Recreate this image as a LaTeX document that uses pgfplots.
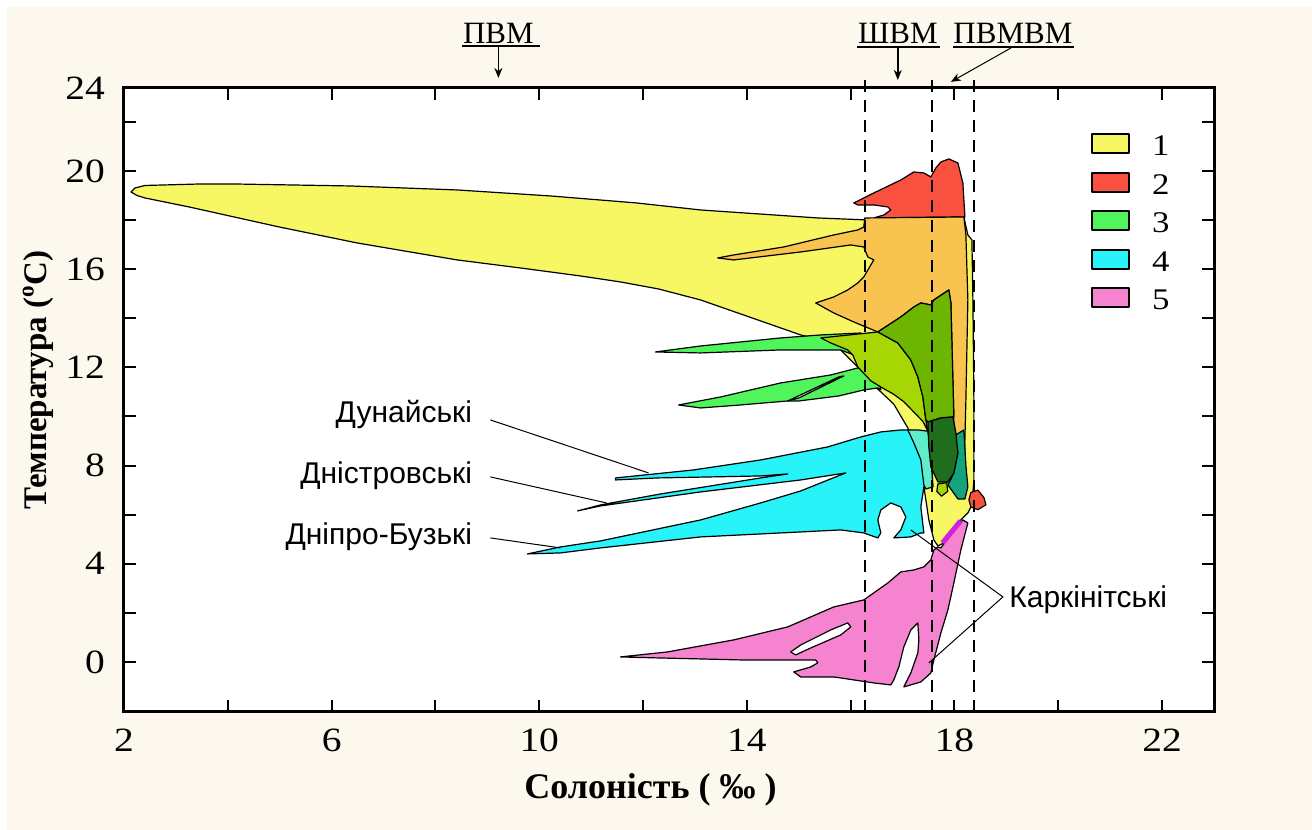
\documentclass[border=0pt]{standalone}
\usepackage{fontspec}
\setmainfont{Liberation Serif}
\newfontfamily\sansf{Liberation Sans}
\newfontfamily\tickf[FakeStretch=1.16]{Liberation Serif}
\usepackage{pgfplots}
\pgfplotsset{compat=1.18}
\usetikzlibrary{arrows.meta}
\definecolor{cYel}{HTML}{F7F763}
\definecolor{cRed}{HTML}{FA5040}
\definecolor{cOra}{HTML}{F9C350}
\definecolor{cGrn}{HTML}{50F55C}
\definecolor{cYG}{HTML}{A6D704}
\definecolor{cMG}{HTML}{6DB500}
\definecolor{cDG}{HTML}{1E6E1E}
\definecolor{cTeal}{HTML}{13A47E}
\definecolor{cLT}{HTML}{60EDCB}
\definecolor{cCyan}{HTML}{27F3F9}
\definecolor{cPink}{HTML}{F583CF}
\definecolor{cMag}{HTML}{D020E0}
\definecolor{cBg}{HTML}{FDF8EE}
\pgfplotsset{reg/.style={draw=black, line width=0.6pt, line join=round}}
\begin{document}
\begin{tikzpicture}
\fill[white] (-62pt,-59pt) rectangle (594pt,356pt);
\fill[cBg] (-58.5pt,-59pt) rectangle (594pt,352.5pt);
\useasboundingbox (-62pt,-59pt) rectangle (594pt,356pt);
\begin{axis}[
  scale only axis, width=545pt, height=312pt,
  xmin=2, xmax=23, ymin=-2.04, ymax=23.38,
  clip=false,
  axis background/.style={fill=white},
  axis line style={line width=1.5pt},
  major tick style={line width=1pt, black},
  major tick length=6pt,
  xtick={2,4,...,22}, xticklabels={2,,6,,10,,14,,18,,22},
  ytick={0,2,...,22}, yticklabels={0,,4,,8,,12,,16,,20,},
  extra y ticks={23.38}, extra y tick labels={24},
  extra y tick style={major tick length=0pt},
  ticklabel style={font=\tickf\fontsize{17}{20}\selectfont},
  xticklabel style={yshift=-5pt},
  yticklabel style={xshift=-6pt},
  xlabel={\textbf{Солоність ( ‰ )}},
  xlabel style={at={(axis description cs:0.483,-0.125)}, anchor=center, font=\fontsize{18}{21}\selectfont},
  ylabel={\textbf{Температура (\textsuperscript{o}C)}},
  ylabel style={at={(axis description cs:-0.079,0.532)}, anchor=center, font=\fontsize{16.5}{20}\selectfont},
  legend image code/.code={\draw[#1, line width=1pt] (0pt,-4.75pt) rectangle (18.5pt,4.75pt);},
  legend style={at={(axis description cs:0.887,0.934)}, anchor=north west, draw=none, fill=none,
    inner sep=0pt, font=\tickf\fontsize{15}{18}\selectfont, row sep=5.25pt,
    nodes={inner sep=1pt, text height=12pt, text depth=0pt},
    /tikz/every odd column/.append style={column sep=10pt}},
  legend cell align=left,
]
% 1 yellow
\addplot[reg, fill=cYel] coordinates {
(2.135,19.145) (2.212,19.308) (2.405,19.409) (3.466,19.470) (4.122,19.470) (6.359,19.389)
(8.422,19.226) (10.216,18.982) (11.875,18.697) (13.109,18.411) (15.366,18.086) (16.330,18.004)
(18.181,18.126) (18.258,17.393) (18.336,17.189) (18.355,14.745) (18.374,10.672) (18.374,7.413)
(18.336,6.395) (18.258,6.069) (18.123,5.784) (17.795,4.847) (17.680,4.725) (17.603,4.969)
(17.506,5.784) (17.449,6.599) (17.410,7.128) (17.352,8.228) (17.217,8.921) (17.101,9.532)
(16.831,10.5) (16.581,11.0) (16.388,11.365) (16.137,12.016) (15.809,12.709) (15.424,13.116)
(15.038,13.320) (14.652,13.605) (13.881,14.175) (13.109,14.745) (12.299,15.193) (11.566,15.479)
(10.795,15.723) (9.637,16.049) (8.422,16.375) (6.494,17.067) (4.989,17.719) (3.254,18.534)
(2.405,18.900) (2.251,19.0)} -- cycle;
\addlegendentry{1}
% 2 red
\addplot[reg, fill=cRed] coordinates {
(16.060,18.697) (16.446,19.104) (16.966,19.633) (17.217,19.959) (17.410,19.919) (17.545,19.756)
(17.641,20.122) (17.738,20.367) (17.892,20.489) (18.066,20.326) (18.162,19.511) (18.201,18.126)
(16.446,18.086) (16.639,18.208) (16.773,18.411) (16.716,18.534) (16.446,18.615) (16.137,18.615)} -- cycle;
\addlegendentry{2}
% orange overlap
\addplot[reg, fill=cOra, forget plot] coordinates {
(16.272,18.086) (18.181,18.126) (18.220,17.393) (18.258,14.745) (18.220,10.672) (18.181,7.413)
(18.085,7.128) (17.988,7.413) (17.988,9.980) (17.931,14.623) (17.892,15.153) (17.603,14.745)
(17.545,14.542) (17.352,14.623) (17.217,14.460) (16.966,14.053) (16.523,13.442) (16.060,13.849)
(15.674,14.216) (15.327,14.623) (15.674,14.868) (15.944,15.153) (16.137,15.438) (16.253,15.682)
(16.388,16.171) (16.446,16.375) (16.330,16.497) (16.253,16.904) (16.002,16.986) (15.038,16.701)
(13.745,16.375) (13.437,16.456) (13.745,16.578) (14.710,16.904) (15.674,17.393) (16.137,17.597)
(16.253,17.719)} -- cycle;
% 3 green tongues
\addplot[reg, fill=cGrn] coordinates {
(12.241,12.627) (13.109,12.871) (14.652,13.198) (15.424,13.320) (16.195,13.400) (16.195,12.400)
(15.809,12.709) (14.652,12.709) (13.109,12.587)} -- cycle;
\addlegendentry{3}
\addplot[reg, fill=cGrn, forget plot] coordinates {
(12.685,10.468) (13.495,10.794) (14.652,11.365) (15.616,11.690) (16.137,11.976) (16.523,11.650)
(16.581,11.079) (16.523,11.161) (16.253,11.079) (15.771,10.835) (15.0,10.63) (14.787,10.631)
(13.881,10.468) (13.109,10.346)} -- cycle;
\addplot[reg, fill=white, forget plot] coordinates {
(14.787,10.631) (15.771,11.609) (15.868,11.650) (15.0,10.75)} -- cycle;
% yellow-green overlap
\addplot[reg, fill=cYG, forget plot] coordinates {
(15.424,13.198) (16.523,13.442) (16.908,12.994) (17.159,12.301) (17.294,11.609) (17.391,10.794)
(17.449,9.857) (17.487,9.4) (17.391,9.8) (17.024,10.6) (16.831,10.9) (16.581,11.2) (16.388,11.45)
(16.137,12.016) (16.041,12.505) (15.944,12.709) (15.616,12.994)} -- cycle;
% mid green overlap
\addplot[reg, fill=cMG, forget plot] coordinates {
(16.523,13.442) (16.966,14.053) (17.217,14.460) (17.352,14.623) (17.545,14.542) (17.603,14.745)
(17.892,15.153) (17.931,14.623) (17.988,9.980) (17.738,9.939) (17.487,9.776) (17.449,9.857)
(17.391,10.794) (17.294,11.609) (17.159,12.301) (16.908,12.994)} -- cycle;
% 4 cyan
\addplot[reg, fill=cCyan] coordinates {
(11.470,7.495) (12.974,7.821) (14.266,8.228) (15.558,8.758) (16.195,9.165) (16.581,9.369)
(16.966,9.450) (17.101,9.450) (17.487,9.328) (17.545,9.0) (17.583,7.128) (17.410,7.128)
(17.352,6.314) (17.410,5.255) (17.352,5.255) (17.159,5.092) (16.831,5.051) (16.966,5.377)
(17.063,5.906) (16.966,6.314) (16.773,6.477) (16.581,6.191) (16.523,5.784) (16.581,5.255)
(16.523,5.051) (16.253,5.255) (15.809,5.377) (15.038,5.295) (13.109,5.092) (11.180,4.644)
(10.409,4.440) (9.772,4.399) (10.409,4.684) (11.180,4.929) (13.109,5.784) (14.266,6.477)
(15.038,6.965) (15.906,7.699) (15.038,7.413) (13.109,6.925) (11.180,6.354) (10.737,6.151)
(11.180,6.395) (12.338,6.843) (14.266,7.495) (14.787,7.658) (14.266,7.576) (13.302,7.536)
(12.280,7.495) (11.470,7.413)} -- cycle;
\addlegendentry{4}
\addplot[reg, fill=cLT, forget plot] coordinates {
(17.101,9.450) (17.294,9.450) (17.487,9.40) (17.545,8.5) (17.583,7.128) (17.449,7.047)
(17.410,7.21) (17.352,8.228) (17.217,8.921)} -- cycle;
\addplot[reg, fill=cTeal, forget plot] coordinates {
(17.988,9.2) (18.181,9.450) (18.220,8.0) (18.258,7.128) (18.201,6.640) (18.066,6.640)
(17.873,7.210) (17.988,7.699) (18.066,8.513)} -- cycle;
\addplot[reg, fill=cDG, forget plot] coordinates {
(17.487,9.776) (17.738,9.939) (17.969,9.980) (18.027,9.328) (18.066,8.513) (17.988,7.699)
(17.873,7.332) (17.680,7.332) (17.545,7.943) (17.506,8.758)} -- cycle;
\addplot[reg, fill=cYG, forget plot] coordinates {
(17.68,7.25) (17.85,7.3) (17.87,6.95) (17.75,6.75) (17.66,6.95)} -- cycle;
\addplot[reg, fill=cRed, forget plot] coordinates {
(18.278,6.6) (18.316,6.9) (18.45,7.0) (18.567,6.7) (18.606,6.4) (18.45,6.2) (18.316,6.314)} -- cycle;
% 5 pink
\addplot[reg, fill=cPink] coordinates {
(11.566,0.204) (12.473,0.407) (13.745,0.896) (14.787,1.426) (15.674,2.240) (16.253,2.525)
(16.716,3.218) (16.966,3.666) (17.217,3.747) (17.410,3.870) (17.545,4.155) (17.603,4.562)
(17.680,4.684) (17.738,4.644) (17.988,5.377) (18.162,5.784) (18.258,5.662) (18.123,4.562)
(17.988,3.218) (17.873,2.118) (17.738,1.181) (17.603,0.081) (17.545,-0.448) (17.352,-0.815)
(17.024,-1.018) (17.159,-0.448) (17.294,0.367) (17.314,0.896) (17.294,1.589) (17.159,1.303)
(17.024,0.611) (16.928,-0.204) (16.831,-0.733) (16.773,-0.937) (16.446,-0.855) (15.674,-0.611)
(15.038,-0.611) (14.903,-0.407) (15.231,-0.204) (15.366,-0.041) (15.327,0.081) (14.845,0.081)
(13.881,0.081) (13.109,0.122) (12.280,0.163)} -- cycle;
\addlegendentry{5}
\addplot[reg, fill=white, forget plot] coordinates {
(14.845,0.407) (15.038,0.692) (15.616,1.303) (15.944,1.589) (16.002,1.426) (15.809,1.100)
(15.231,0.570) (14.941,0.285)} -- cycle;
\addplot[cMag, line width=2.5pt, forget plot] coordinates {(17.77,4.85) (18.12,5.75)};
% dashed lines
\addplot[black, line width=1pt, dash pattern=on 6pt off 4pt, forget plot] coordinates {(16.272,-2.04) (16.272,24.03)};
\addplot[black, line width=1pt, dash pattern=on 6pt off 4pt, forget plot] coordinates {(17.564,-2.04) (17.564,24.03)};
\addplot[black, line width=1pt, dash pattern=on 6pt off 4pt, forget plot] coordinates {(18.374,-2.04) (18.374,24.03)};
% top annotations
\node[font=\fontsize{15.5}{18}\selectfont] at (axis cs:9.213,25.62) {ПВМ};
\draw[line width=0.7pt] (axis cs:8.519,25.09) -- (axis cs:10.023,25.09);
\draw[line width=0.7pt,-{Stealth[length=5pt,width=4pt]}] (axis cs:9.213,25.09) -- (axis cs:9.213,23.79);
\node[font=\fontsize{15.5}{18}\selectfont] at (axis cs:16.908,25.62) {ШВМ};
\draw[line width=0.7pt] (axis cs:16.118,25.05) -- (axis cs:17.718,25.05);
\draw[line width=0.7pt,-{Stealth[length=5pt,width=4pt]}] (axis cs:16.908,25.05) -- (axis cs:16.908,23.71);
\node[font=\fontsize{15.5}{18}\selectfont] at (axis cs:19.126,25.62) {ПВМВМ};
\draw[line width=0.7pt] (axis cs:17.969,25.05) -- (axis cs:20.303,25.05);
\draw[line width=0.5pt,-{Stealth[length=5pt,width=4pt]}] (axis cs:19.088,25.01) -- (axis cs:17.931,23.63);
% region labels
\node[anchor=east, inner sep=0pt, font=\sansf\fontsize{15}{18}\selectfont] at (axis cs:8.712,10.06) {Дунайські};
\node[anchor=east, inner sep=0pt, font=\sansf\fontsize{15}{18}\selectfont] at (axis cs:8.712,7.576) {Дністровські};
\node[anchor=east, inner sep=0pt, font=\sansf\fontsize{15}{18}\selectfont] at (axis cs:8.712,5.092) {Дніпро-Бузькі};
\node[anchor=west, inner sep=0pt, font=\sansf\fontsize{15}{18}\selectfont] at (axis cs:19.05,2.525) {Каркінітські};
\draw[line width=0.5pt] (axis cs:9.059,9.857) -- (axis cs:12.106,7.699);
\draw[line width=0.5pt] (axis cs:9.059,7.536) -- (axis cs:11.296,6.477);
\draw[line width=0.5pt] (axis cs:9.059,5.051) -- (axis cs:10.409,4.644);
\draw[line width=0.5pt] (axis cs:17.159,5.377) -- (axis cs:18.933,2.648) -- (axis cs:17.506,-0.041);
\end{axis}
\end{tikzpicture}
\end{document}
